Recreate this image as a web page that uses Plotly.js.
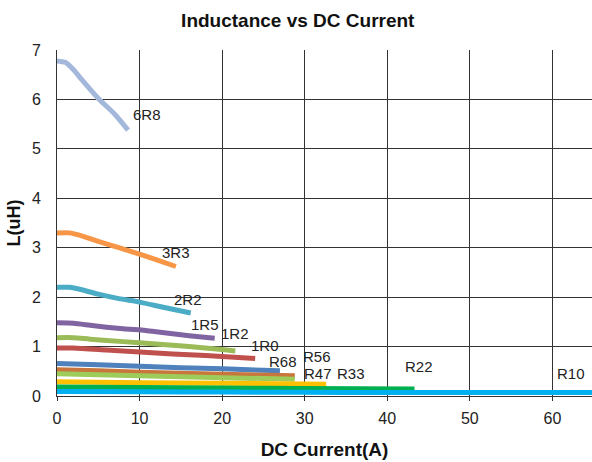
<!DOCTYPE html>
<html>
<head>
<meta charset="utf-8">
<script src="https://cdn.plot.ly/plotly-3.0.1.min.js"></script>
<style>html,body{margin:0;padding:0;background:#fff;}#chart{width:592px;height:462px;}</style>
</head>
<body>
<div id="chart"></div>
<script>
// Series names
const names = ["6R8","3R3","2R2","1R5","1R2","1R0","R68","R56","R47","R33","R22","R10"];
// Current values (A) and inductance (uH) per series
const x6R8 = [0, 1, 2, 3, 5, 7, 8.6];
const y6R8 = [6.78, 6.75, 6.6, 6.4, 6.02, 5.7, 5.38];
const x3R3 = [0, 1.5, 3, 5, 7.5, 10, 12, 14.4];
const y3R3 = [3.3, 3.3, 3.24, 3.13, 3.0, 2.87, 2.76, 2.62];
const x2R2 = [0, 1.5, 3, 5, 7.5, 10, 13, 16.2];
const y2R2 = [2.2, 2.2, 2.15, 2.06, 1.97, 1.9, 1.79, 1.68];
const x1R5 = [0, 2, 4, 6, 8, 10, 12, 14, 16, 19.1];
const y1R5 = [1.48, 1.47, 1.43, 1.39, 1.36, 1.34, 1.3, 1.26, 1.22, 1.17];
const x1R2 = [0, 2, 4, 8, 12, 16, 20, 21.6];
const y1R2 = [1.18, 1.18, 1.15, 1.1, 1.05, 1.0, 0.94, 0.91];
const x1R0 = [0, 2, 6, 10, 14, 18, 22, 24.0];
const y1R0 = [0.97, 0.97, 0.93, 0.89, 0.85, 0.82, 0.78, 0.76];
const xR68 = [0, 5, 10, 15, 20, 27.0];
const yR68 = [0.66, 0.63, 0.6, 0.57, 0.55, 0.51];
const xR56 = [0, 5, 10, 15, 20, 28.8];
const yR56 = [0.53, 0.51, 0.48, 0.46, 0.44, 0.41];
const xR47 = [0, 5, 10, 15, 20, 28.8];
const yR47 = [0.45, 0.43, 0.41, 0.39, 0.37, 0.34];
const xR33 = [0, 10, 20, 32.6];
const yR33 = [0.29, 0.27, 0.26, 0.24];
const xR22 = [0, 10, 20, 30, 43.3];
const yR22 = [0.18, 0.17, 0.16, 0.15, 0.14];
const xR10 = [0, 10, 20, 30, 40, 50, 60, 66];
const yR10 = [0.09, 0.085, 0.08, 0.075, 0.07, 0.07, 0.07, 0.07];
// Label positions (data coords)
const labelX = [10.9, 14.4, 15.9, 17.9, 21.5, 25.2, 27.4, 31.5, 31.6, 35.6, 43.9, 62.3];
const labelY = [5.69, 2.91, 1.96, 1.44, 1.27, 1.03, 0.69, 0.79, 0.45, 0.45, 0.59, 0.45];

const xs = [x6R8,x3R3,x2R2,x1R5,x1R2,x1R0,xR68,xR56,xR47,xR33,xR22,xR10];
const ys = [y6R8,y3R3,y2R2,y1R5,y1R2,y1R0,yR68,yR56,yR47,yR33,yR22,yR10];
const colors = ["#a3b8db","#f79646","#4bacc6","#8064a2","#9bbb59","#c0504d","#4f81bd","#c8763b","#9dcc5a","#ffc000","#00b050","#00b0f0"];

const FONT = "Liberation Sans, Arial, sans-serif";

const traces = names.map((n,i)=>({
  type:"scatter", mode:"lines", name:n, x:xs[i], y:ys[i],
  line:{color:colors[i], width:5, shape:"spline", smoothing:0.6},
  hoverinfo:"skip"
}));

const annotations = names.map((n,i)=>({
  x:labelX[i], y:labelY[i], xref:"x", yref:"y", text:n, showarrow:false,
  font:{family:FONT, size:15, color:"#222"}
}));

const layout = {
  width:592, height:462,
  margin:{l:57, r:0, t:50, b:66},
  paper_bgcolor:"#fff", plot_bgcolor:"#fff",
  showlegend:false,
  title:{text:"<b>Inductance vs DC Current</b>", x:0.503, xanchor:"center", y:0.957, yanchor:"middle",
    font:{family:FONT, size:19, color:"#111"}},
  xaxis:{range:[0,64.8], dtick:10, tick0:0, showgrid:true, gridcolor:"#333", gridwidth:1,
    zeroline:false, showline:true, linecolor:"#333", linewidth:1, ticks:"outside", ticklen:4, tickcolor:"#333",
    ticklabelstandoff:4,
    tickfont:{family:FONT, size:16, color:"#222"},
    title:{text:"<b>DC Current(A)</b>", standoff:16, font:{family:FONT, size:19, color:"#111"}}},
  yaxis:{range:[0,7], dtick:1, tick0:0, showgrid:true, gridcolor:"#333", gridwidth:1,
    zeroline:false, showline:true, linecolor:"#333", linewidth:1, ticks:"",
    ticklabelstandoff:12,
    tickfont:{family:FONT, size:16, color:"#222"},
    title:{text:"<b>L(uH)</b>", standoff:6, font:{family:FONT, size:18, color:"#111"}}},
  annotations:annotations
};

Plotly.newPlot("chart", traces, layout, {displayModeBar:false, staticPlot:true});
</script>
</body>
</html>
